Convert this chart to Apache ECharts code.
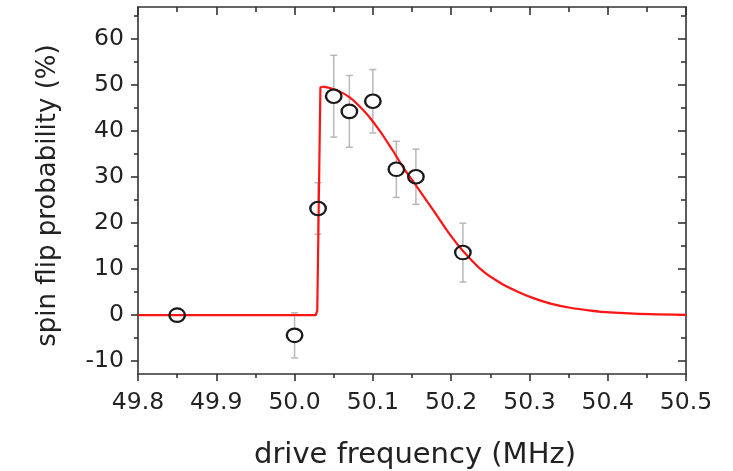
<!DOCTYPE html>
<html><head><meta charset="utf-8">
<script src="https://cdn.jsdelivr.net/npm/echarts@6/dist/echarts.min.js"></script>
<style>html,body{margin:0;padding:0;background:#fff}#c{width:733px;height:471px}</style>
</head><body><div id="c"></div>
<script>
// measured data points (drive frequency MHz, spin flip probability %, error)
const freqs  = [49.85, 50.00, 50.03, 50.05, 50.07, 50.10, 50.13, 50.155, 50.215];
const probs  = [0.0,  -4.4,  23.2,  47.6,  44.3,  46.5,  31.7,  30.1,   13.6];
const errs   = [0.0,   4.9,   5.6,   8.9,   7.8,   6.9,   6.1,   6.0,    6.4];
// fitted curve (rise part, then decay part)
const riseFreqs  = [49.80, 50.027, 50.029, 50.033, 50.036];
const riseProbs  = [0.0,   0.0,    1.0,    49.5,   49.7];
const decayFreqs = [50.036, 50.045, 50.058, 50.070, 50.082, 50.095, 50.110, 50.125, 50.140, 50.156, 50.178, 50.199, 50.216, 50.241, 50.263, 50.285, 50.305, 50.327, 50.352, 50.378, 50.403, 50.454, 50.500];
const decayProbs = [49.7,   49.4,   48.6,   47.4,   45.6,   43.2,   39.8,   35.9,   31.8,   28.0,   22.6,   17.4,   13.8,   9.5,    7.0,    5.1,    3.7,    2.5,    1.6,    1.0,    0.6,    0.2,    0.05];
// axis ticks
const xMin = 49.8, xMax = 50.5, xStep = 0.1;
const yMin = -12.8, yMax = 67;
const yMajor = [-10, 0, 10, 20, 30, 40, 50, 60];
const yMinor = [-15, -5, 5, 15, 25, 35, 45, 55, 65];

const FONT = 'DejaVu Sans';
const AX = '#333';
const TXT = '#222';
const RED = '#ff1414';

const pts = freqs.map((f, i) => [f, probs[i], errs[i]]);
const rise = riseFreqs.map((f, i) => [f, riseProbs[i]]);
const decay = decayFreqs.map((f, i) => [f, decayProbs[i]]);

function xAxisCfg(pos) {
  const bottom = pos === 'bottom';
  return {
    type: 'value', position: pos, min: xMin, max: xMax, interval: xStep,
    axisLine: { show: true, onZero: false, lineStyle: { color: AX, width: 1.6 } },
    axisTick: { show: true, inside: !bottom, length: bottom ? 7 : 8, lineStyle: { color: AX, width: 1.6 } },
    minorTick: { show: true, splitNumber: 2, length: bottom ? 4 : 5, lineStyle: { color: AX, width: 1.6 } },
    axisLabel: { show: bottom, formatter: v => v.toFixed(1), fontFamily: FONT, fontSize: 23.5, color: TXT, margin: 17 },
    splitLine: { show: false },
    name: bottom ? 'drive frequency (MHz)' : '',
    nameLocation: 'middle', nameGap: 67,
    nameTextStyle: { fontFamily: FONT, fontSize: 29, color: TXT, padding: [0, 0, 0, 6] }
  };
}
function yAxisCfg(pos, minor) {
  const left = pos === 'left';
  return {
    type: 'value', position: pos, min: yMin, max: yMax, offset: 0,
    axisLine: { show: !minor, onZero: false, lineStyle: { color: AX, width: 1.6 } },
    axisTick: { show: true, inside: !left, customValues: minor ? yMinor : yMajor,
                length: minor ? (left ? 4 : 5) : (left ? 7 : 8), lineStyle: { color: AX, width: 1.6 } },
    axisLabel: { show: left && !minor, customValues: yMajor, fontFamily: FONT, fontSize: 23.5, color: TXT, margin: 14 },
    splitLine: { show: false },
    name: (left && !minor) ? 'spin flip probability (%)' : '',
    nameLocation: 'middle', nameGap: 77, nameRotate: 90,
    nameTextStyle: { fontFamily: FONT, fontSize: 26, color: TXT, padding: [0, 10, 0, 0] }
  };
}

const chart = echarts.init(document.getElementById('c'), null, { renderer: 'canvas' });
chart.setOption({
  animation: false,
  backgroundColor: '#fff',
  grid: { left: 138, right: 47, top: 7, bottom: 97, containLabel: false, outerBoundsMode: 'none' },
  xAxis: [xAxisCfg('bottom'), xAxisCfg('top')],
  yAxis: [yAxisCfg('left', false), yAxisCfg('right', false), yAxisCfg('left', true), yAxisCfg('right', true)],
  series: [
    {
      type: 'custom', xAxisIndex: 0, yAxisIndex: 0, data: pts, z: 2,
      renderItem: function (params, api) {
        const x = api.value(0), y = api.value(1), e = api.value(2);
        const children = [];
        if (e > 0) {
          const c = api.coord([x, y]), t = api.coord([x, y + e]), b = api.coord([x, y - e]);
          const r = 7, cap = 3.5;
          const style = { stroke: '#b8b8b8', lineWidth: 1.5 };
          if (c[1] - r > t[1]) children.push({ type: 'line', shape: { x1: c[0], y1: t[1], x2: c[0], y2: c[1] - r }, style });
          if (c[1] + r < b[1]) children.push({ type: 'line', shape: { x1: c[0], y1: c[1] + r, x2: c[0], y2: b[1] }, style });
          children.push({ type: 'line', shape: { x1: c[0] - cap, y1: t[1], x2: c[0] + cap, y2: t[1] }, style });
          children.push({ type: 'line', shape: { x1: c[0] - cap, y1: b[1], x2: c[0] + cap, y2: b[1] }, style });
        }
        return { type: 'group', children };
      }
    },
    {
      type: 'line', xAxisIndex: 0, yAxisIndex: 0, data: rise, showSymbol: false, z: 3,
      lineStyle: { color: RED, width: 2.2, join: 'round' }
    },
    {
      type: 'line', xAxisIndex: 0, yAxisIndex: 0, data: decay, showSymbol: false, z: 3,
      smooth: 0.3,
      lineStyle: { color: RED, width: 2.2 }
    },
    {
      type: 'scatter', xAxisIndex: 0, yAxisIndex: 0, data: pts, z: 4,
      symbol: 'path://M-1,0A1,1 0 1,0 1,0A1,1 0 1,0 -1,0Z',
      symbolSize: [15.5, 13.5],
      itemStyle: { color: 'rgba(255,255,255,0)', borderColor: '#1a1a1a', borderWidth: 2.2, opacity: 1 }
    }
  ]
});
</script></body></html>
